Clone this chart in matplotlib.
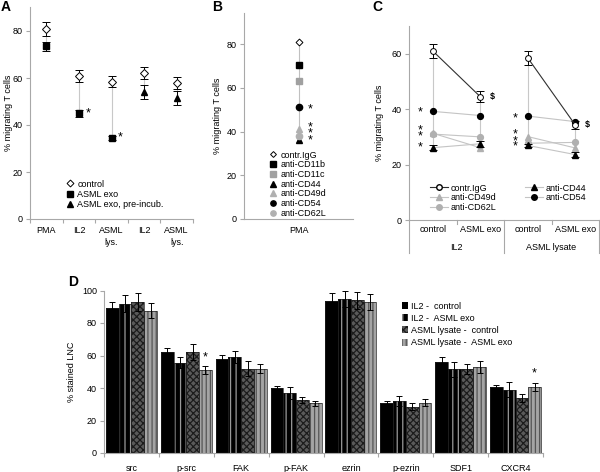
import matplotlib
matplotlib.use('Agg')
import matplotlib.pyplot as plt
from matplotlib.lines import Line2D
from matplotlib.patches import Patch
import numpy as np

plt.rcParams['font.family'] = ['Liberation Sans', 'DejaVu Sans']
plt.rcParams['font.size'] = 6.5
plt.rcParams['hatch.linewidth'] = 0.9

W, H = 600, 472

# ---- Panel A data ----
a_cats = ['PMA', 'IL2', 'ASML\nlys.', 'IL2', 'ASML\nlys.']
a_control = [81, 61, 58.5, 62, 58]
a_control_err = [3, 2.5, 2.5, 2.5, 2.5]
a_exo = [73.5, 45, 34.5, np.nan, np.nan]
a_exo_err = [2, 1.5, 1, 0, 0]
a_pre = [np.nan, np.nan, np.nan, 54, 51.5]
a_pre_err = [0, 0, 0, 3, 3]
a_star = [False, True, True, False, False]

# ---- Panel B data ----
b_labels = ['contr.IgG', 'anti-CD11b', 'anti-CD11c', 'anti-CD44',
            'anti-CD49d', 'anti-CD54', 'anti-CD62L']
b_values = [81, 70.5, 63, 36, 41, 51, 38]
b_star_y = [50, 42, 39, 36]

# ---- Panel C data ----
c_cats = ['control', 'ASML exo', 'control', 'ASML exo']
c_groups = ['IL2', 'ASML lysate']
c_igg = [61, 44.5, 58.5, 34.3]
c_igg_err = [2.5, 2, 2.5, 1.5]
c_cd49d = [31.3, 26.1, 30.1, 26]
c_cd62l = [31, 30, 27.7, 28]
c_cd44 = [26.1, 27.5, 26.9, 23.6]
c_cd44_err = [1, 1, 0.5, 1]
c_cd54 = [39.2, 37.7, 37.5, 35.5]
c_star_il2 = [38.8, 32.3, 30.1, 26.1]
c_star_lys = [36.7, 30.7, 28.4, 26.5]

# ---- Panel D data ----
d_cats = ['src', 'p-src', 'FAK', 'p-FAK', 'ezrin', 'p-ezrin', 'SDF1', 'CXCR4']
d_series = ['IL2 -  control', 'IL2 -  ASML exo',
            'ASML lysate -  control', 'ASML lysate -  ASML exo']
d_il2_ctrl = [89, 62, 58, 40, 93.5, 30.5, 56, 40.5]
d_il2_exo = [92, 55.5, 59, 37, 95, 32, 51.5, 39]
d_lys_ctrl = [93, 62, 52, 32.5, 94, 28.5, 51.5, 34]
d_lys_exo = [87.5, 51, 52, 30.5, 92.7, 31, 53, 40.5]
d_il2_ctrl_err = [4, 2.7, 2.5, 1.5, 4.8, 1.5, 3, 1.5]
d_il2_exo_err = [5.5, 3.4, 3.5, 3.5, 5, 3, 4.5, 4.5]
d_lys_ctrl_err = [5.6, 4.8, 4.5, 2, 5.3, 2, 3, 2.5]
d_lys_exo_err = [4.7, 2.5, 3, 1.5, 5, 2, 3.5, 2.5]
d_star_y = [np.nan, 59, np.nan, np.nan, np.nan, np.nan, np.nan, 49]

AXC = '#a8a8a8'


def rect(left, top, right, bottom):
    return [left / W, 1 - bottom / H, (right - left) / W, (bottom - top) / H]


def style(ax):
    for s in ['top', 'right']:
        ax.spines[s].set_visible(False)
    for s in ['left', 'bottom']:
        ax.spines[s].set_color(AXC)
        ax.spines[s].set_linewidth(0.8)
    ax.tick_params(axis='y', length=3, width=0.8, color=AXC, labelsize=6.5, pad=2)
    ax.tick_params(axis='x', which='major', length=0, labelsize=6.5, pad=5)
    ax.tick_params(axis='x', which='minor', length=3, width=0.8, color=AXC)


fig = plt.figure(figsize=(6, 4.72), dpi=100)

# ================= A =================
axA = fig.add_axes(rect(30, 7.5, 193, 219))
style(axA)
xa = np.arange(len(a_cats))
axA.set_xlim(-0.5, len(a_cats) - 0.5)
axA.set_ylim(0, 90)
for i in xa:
    lows = [v for v in (a_exo[i], a_pre[i]) if not np.isnan(v)]
    axA.vlines(i, min(lows), a_control[i], color='#c8c8c8', lw=0.8, zorder=1)
axA.errorbar(xa, a_exo, yerr=a_exo_err, fmt='s', color='black', ms=4.5,
             elinewidth=0.7, capsize=3, capthick=0.7, zorder=3)
axA.errorbar(xa, a_pre, yerr=a_pre_err, fmt='^', color='black', ms=5,
             elinewidth=0.7, capsize=3, capthick=0.7, zorder=3)
axA.errorbar(xa, a_control, yerr=a_control_err, fmt='D', mfc='white', mec='black',
             mew=0.7, ms=3.8, ecolor='black', elinewidth=0.7, capsize=3,
             capthick=0.7, zorder=3)
for i in xa:
    if a_star[i]:
        axA.text(i + 0.28, a_exo[i], '*', fontsize=9, ha='center', va='center')
axA.set_xticks(xa)
axA.set_xticklabels(a_cats, linespacing=1.5)
axA.set_xticks(np.arange(-0.5, len(a_cats)), minor=True)
axA.set_yticks([0, 20, 40, 60, 80])
axA.set_ylabel('% migrating T cells', fontsize=6.5)
axA.yaxis.set_label_coords(-0.104, 0.5)
la = [Line2D([], [], marker='D', ls='', mfc='white', mec='black', mew=0.7, ms=3.5),
      Line2D([], [], marker='s', ls='', color='black', ms=4),
      Line2D([], [], marker='^', ls='', color='black', ms=4.5)]
fig.legend(la, ['control', 'ASML exo', 'ASML exo, pre-incub.'],
           loc='upper left', bbox_to_anchor=(62 / W, 1 - 175 / H), frameon=False,
           fontsize=6.5, handlelength=0.8, handletextpad=0.4, labelspacing=0.15,
           borderpad=0)

# ================= B =================
axB = fig.add_axes(rect(244, 13, 353, 219))
style(axB)
axB.set_xlim(0, 1)
axB.set_ylim(0, 94.2)
axB.vlines(0.5, min(b_values), max(b_values), color='#c0c0c0', lw=0.8, zorder=1)
b_styles = [dict(marker='D', mfc='white', mec='black', mew=0.7, ms=3.5),
            dict(marker='s', color='black', ms=4.5),
            dict(marker='s', color='#a0a0a0', ms=4.5),
            dict(marker='^', color='black', ms=5),
            dict(marker='^', color='#b0b0b0', ms=5),
            dict(marker='o', color='black', ms=4.5),
            dict(marker='o', color='#b0b0b0', ms=4.5)]
hb = []
for v, st in zip(b_values, b_styles):
    axB.plot([0.5], [v], ls='', zorder=3, **st)
    hb.append(Line2D([], [], ls='', **st))
for y in b_star_y:
    axB.text(0.61, y, '*', fontsize=9, ha='center', va='center')
axB.set_xticks([0.5])
axB.set_xticklabels(['PMA'])
axB.set_yticks([0, 20, 40, 60, 80])
axB.set_ylabel('% migrating T cells', fontsize=6.5)
axB.yaxis.set_label_coords(-0.2, 0.5)
fig.legend(hb, b_labels, loc='upper left', bbox_to_anchor=(265 / W, 1 - 146 / H),
           frameon=False, fontsize=6.5, handlelength=0.8, handletextpad=0.4,
           labelspacing=0.08, borderpad=0, markerscale=0.85)

# ================= C =================
axC = fig.add_axes(rect(409, 26, 599, 220))
style(axC)
xc = np.arange(len(c_cats))
axC.set_xlim(-0.5, len(c_cats) - 0.5)
axC.set_ylim(0, 70)
series_c = [c_igg, c_cd49d, c_cd62l, c_cd44, c_cd54]
for i in xc:
    vals = [s[i] for s in series_c]
    axC.vlines(i, min(vals), max(vals), color='#c8c8c8', lw=0.8, zorder=1)
GL = '#c4c4c4'
for g in range(2):
    sl = slice(2 * g, 2 * g + 2)
    xs = xc[sl]
    axC.plot(xs, c_cd49d[sl], color=GL, lw=0.8, marker='^', mfc='#b0b0b0',
             mec='#b0b0b0', ms=4.5, zorder=2)
    axC.plot(xs, c_cd62l[sl], color=GL, lw=0.8, marker='o', mfc='#b0b0b0',
             mec='#b0b0b0', ms=4.2, zorder=2)
    axC.plot(xs, c_cd54[sl], color=GL, lw=0.8, marker='o', mfc='black',
             mec='black', ms=4.2, zorder=2)
    axC.errorbar(xs, c_cd44[sl], yerr=c_cd44_err[sl], color=GL, lw=0.8,
                 marker='^', mfc='black', mec='black', ms=4.5, ecolor='black',
                 elinewidth=0.7, capsize=3, capthick=0.7, zorder=3)
    axC.errorbar(xs, c_igg[sl], yerr=c_igg_err[sl], color='#303030', lw=0.8,
                 marker='o', mfc='white', mec='black', mew=0.7, ms=4.2,
                 ecolor='black', elinewidth=0.7, capsize=3, capthick=0.7, zorder=4)
for x0, ys in [(0, c_star_il2), (2, c_star_lys)]:
    for y in ys:
        axC.text(x0 - 0.27, y, '*', fontsize=9, ha='center', va='center')
for x0 in (1, 3):
    axC.text(x0 + 0.2, c_igg[x0], r'\$', fontsize=6.5, fontweight='bold',
             ha='left', va='center')
axC.set_xticks([])
axC.set_yticks([0, 20, 40, 60])
axC.set_ylabel('% migrating T cells', fontsize=6.5)
axC.yaxis.set_label_coords(-0.132, 0.5)
tr = axC.get_xaxis_transform()
for i, lab in enumerate(c_cats):
    axC.text(i, -0.05, lab, transform=tr, ha='center', va='center', fontsize=6.5)
for g, lab in enumerate(c_groups):
    axC.text(2 * g + 0.5, -0.14, lab, transform=tr, ha='center', va='center',
             fontsize=6.5)
for xb in (-0.5, 1.5, 3.5):
    axC.add_line(Line2D([xb, xb], [0, -0.17], transform=tr, color=AXC, lw=0.8,
                        clip_on=False))
for xb in (0.5, 2.5):
    axC.add_line(Line2D([xb, xb], [0, -0.02], transform=tr, color=AXC, lw=0.8,
                        clip_on=False))
lc = [Line2D([], [], color='#303030', lw=0.8, marker='o', mfc='white', mec='black', ms=4),
      Line2D([], [], color=GL, lw=0.8, marker='^', mfc='#b0b0b0', mec='#b0b0b0', ms=4.5),
      Line2D([], [], color=GL, lw=0.8, marker='o', mfc='#b0b0b0', mec='#b0b0b0', ms=4),
      Line2D([], [], color=GL, lw=0.8, marker='^', mfc='black', mec='black', ms=4.5),
      Line2D([], [], color=GL, lw=0.8, marker='o', mfc='black', mec='black', ms=4)]
fig.legend(lc, ['contr.IgG', 'anti-CD49d', 'anti-CD62L', 'anti-CD44', 'anti-CD54'],
           ncol=2, loc='upper left', bbox_to_anchor=(425 / W, 1 - 179 / H),
           frameon=False, fontsize=6.5, handlelength=2.0, handletextpad=0.3,
           labelspacing=0.08, columnspacing=3.2, borderpad=0)

# ================= D =================
axD = fig.add_axes(rect(104, 290.5, 543, 453))
style(axD)
xd = np.arange(len(d_cats))
axD.set_xlim(-0.5, len(d_cats) - 0.5)
axD.set_ylim(0, 100)
bw = 0.232
d_vals = [d_il2_ctrl, d_il2_exo, d_lys_ctrl, d_lys_exo]
d_errs = [d_il2_ctrl_err, d_il2_exo_err, d_lys_ctrl_err, d_lys_exo_err]
d_face = ['black', 'black', '#5a5a5a', '#a4a4a4']
d_hatch = [None, '|||', 'xxxxx', '||||']
d_hcol = ['black', '#9a9a9a', '#1c1c1c', '#555555']
hd = []
for k in range(4):
    xs = xd + (k - 1.5) * bw
    axD.bar(xs, d_vals[k], bw, color=d_face[k], hatch=d_hatch[k],
            edgecolor=d_hcol[k], lw=0, zorder=2)
    axD.bar(xs, d_vals[k], bw, fill=False, edgecolor='#202020', lw=0.5, zorder=3)
    axD.errorbar(xs, d_vals[k], yerr=d_errs[k], fmt='none', ecolor='black',
                 elinewidth=0.7, capsize=2.5, capthick=0.7, zorder=4, clip_on=False)
    hd.append(Patch(facecolor=d_face[k], hatch=d_hatch[k], edgecolor=d_hcol[k], lw=0))
for i, y in enumerate(d_star_y):
    if not np.isnan(y):
        axD.text(i + 1.5 * bw, y, '*', fontsize=9, ha='center', va='center')
axD.set_xticks(xd)
axD.set_xticklabels(d_cats)
axD.set_xticks(np.arange(-0.5, len(d_cats)), minor=True)
axD.tick_params(axis='x', which='major', pad=8)
axD.set_yticks([0, 20, 40, 60, 80, 100])
axD.set_ylabel('% stained LNC', fontsize=6.5)
axD.yaxis.set_label_coords(-0.064, 0.5)
fig.legend(hd, d_series, loc='upper left', bbox_to_anchor=(397 / W, 1 - 297 / H),
           frameon=False, fontsize=6.5, handlelength=0.7, handleheight=0.8,
           handletextpad=0.4, labelspacing=0.36, borderpad=0)

# panel letters
for lab, (x, y) in zip('ABCD', [(5.5, 7), (217, 7), (377, 7), (73, 282)]):
    fig.text(x / W, 1 - y / H, lab, fontsize=10, fontweight='bold',
             ha='center', va='center')

fig.savefig('out.png', dpi=100)
